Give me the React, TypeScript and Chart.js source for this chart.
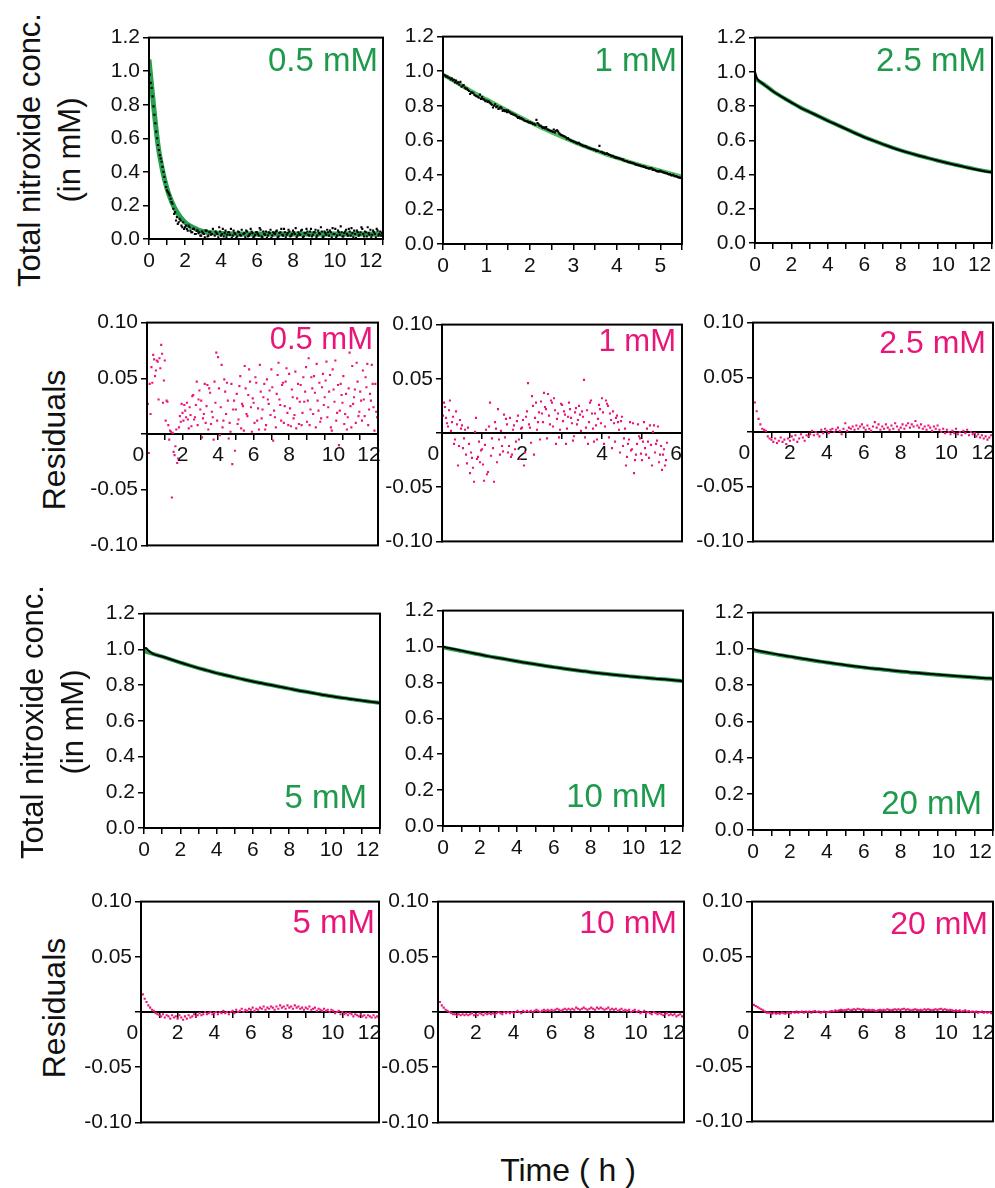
import React, { useEffect, useRef } from "react";
import { Chart, registerables } from "chart.js";

Chart.register(...registerables);

const FONT = '"Liberation Sans", Arial, Helvetica, sans-serif';
const INK = "#111111";
const GREEN_TEXT = "#1d9a4b";
const GREEN_FIT = "#27a04f";
const GREEN_FIT_LIGHT = "#4cbd60";
const PINK = "#ea1578";

// ---------------- time grids (h) ----------------
const T13 = [
  0, 0.1, 0.2, 0.3, 0.4, 0.5, 0.6, 0.7, 0.8, 0.9,
  1, 1.1, 1.2, 1.3, 1.4, 1.5, 1.6, 1.7, 1.8, 1.9,
  2, 2.1, 2.2, 2.3, 2.4, 2.5, 2.6, 2.7, 2.8, 2.9,
  3, 3.1, 3.2, 3.3, 3.4, 3.5, 3.6, 3.7, 3.8, 3.9,
  4, 4.1, 4.2, 4.3, 4.4, 4.5, 4.6, 4.7, 4.8, 4.9,
  5, 5.1, 5.2, 5.3, 5.4, 5.5, 5.6, 5.7, 5.8, 5.9,
  6, 6.1, 6.2, 6.3, 6.4, 6.5, 6.6, 6.7, 6.8, 6.9,
  7, 7.1, 7.2, 7.3, 7.4, 7.5, 7.6, 7.7, 7.8, 7.9,
  8, 8.1, 8.2, 8.3, 8.4, 8.5, 8.6, 8.7, 8.8, 8.9,
  9, 9.1, 9.2, 9.3, 9.4, 9.5, 9.6, 9.7, 9.8, 9.9,
  10, 10.1, 10.2, 10.3, 10.4, 10.5, 10.6, 10.7, 10.8, 10.9,
  11, 11.1, 11.2, 11.3, 11.4, 11.5, 11.6, 11.7, 11.8, 11.9,
  12, 12.1, 12.2, 12.3, 12.4, 12.5, 12.6, 12.7, 12.8, 12.9,
  13,
];

const T13b = [
  0.05, 0.15, 0.25, 0.35, 0.45, 0.55, 0.65, 0.75, 0.85, 0.95,
  1.05, 1.15, 1.25, 1.35, 1.45, 1.55, 1.65, 1.75, 1.85, 1.95,
  2.05, 2.15, 2.25, 2.35, 2.45, 2.55, 2.65, 2.75, 2.85, 2.95,
  3.05, 3.15, 3.25, 3.35, 3.45, 3.55, 3.65, 3.75, 3.85, 3.95,
  4.05, 4.15, 4.25, 4.35, 4.45, 4.55, 4.65, 4.75, 4.85, 4.95,
  5.05, 5.15, 5.25, 5.35, 5.45, 5.55, 5.65, 5.75, 5.85, 5.95,
  6.05, 6.15, 6.25, 6.35, 6.45, 6.55, 6.65, 6.75, 6.85, 6.95,
  7.05, 7.15, 7.25, 7.35, 7.45, 7.55, 7.65, 7.75, 7.85, 7.95,
  8.05, 8.15, 8.25, 8.35, 8.45, 8.55, 8.65, 8.75, 8.85, 8.95,
  9.05, 9.15, 9.25, 9.35, 9.45, 9.55, 9.65, 9.75, 9.85, 9.95,
  10.05, 10.15, 10.25, 10.35, 10.45, 10.55, 10.65, 10.75, 10.85, 10.95,
  11.05, 11.15, 11.25, 11.35, 11.45, 11.55, 11.65, 11.75, 11.85, 11.95,
  12.05, 12.15, 12.25, 12.35, 12.45, 12.55, 12.65, 12.75, 12.85, 12.95,
];

const T56 = [
  0, 0.05, 0.1, 0.15, 0.2, 0.25, 0.3, 0.35, 0.4, 0.45,
  0.5, 0.55, 0.6, 0.65, 0.7, 0.75, 0.8, 0.85, 0.9, 0.95,
  1, 1.05, 1.1, 1.15, 1.2, 1.25, 1.3, 1.35, 1.4, 1.45,
  1.5, 1.55, 1.6, 1.65, 1.7, 1.75, 1.8, 1.85, 1.9, 1.95,
  2, 2.05, 2.1, 2.15, 2.2, 2.25, 2.3, 2.35, 2.4, 2.45,
  2.5, 2.55, 2.6, 2.65, 2.7, 2.75, 2.8, 2.85, 2.9, 2.95,
  3, 3.05, 3.1, 3.15, 3.2, 3.25, 3.3, 3.35, 3.4, 3.45,
  3.5, 3.55, 3.6, 3.65, 3.7, 3.75, 3.8, 3.85, 3.9, 3.95,
  4, 4.05, 4.1, 4.15, 4.2, 4.25, 4.3, 4.35, 4.4, 4.45,
  4.5, 4.55, 4.6, 4.65, 4.7, 4.75, 4.8, 4.85, 4.9, 4.95,
  5, 5.05, 5.1, 5.15, 5.2, 5.25, 5.3, 5.35, 5.4, 5.45,
  5.5, 5.55, 5.6,
];

const T56b = [
  0.025, 0.075, 0.125, 0.175, 0.225, 0.275, 0.325, 0.375, 0.425, 0.475,
  0.525, 0.575, 0.625, 0.675, 0.725, 0.775, 0.825, 0.875, 0.925, 0.975,
  1.025, 1.075, 1.125, 1.175, 1.225, 1.275, 1.325, 1.375, 1.425, 1.475,
  1.525, 1.575, 1.625, 1.675, 1.725, 1.775, 1.825, 1.875, 1.925, 1.975,
  2.025, 2.075, 2.125, 2.175, 2.225, 2.275, 2.325, 2.375, 2.425, 2.475,
  2.525, 2.575, 2.625, 2.675, 2.725, 2.775, 2.825, 2.875, 2.925, 2.975,
  3.025, 3.075, 3.125, 3.175, 3.225, 3.275, 3.325, 3.375, 3.425, 3.475,
  3.525, 3.575, 3.625, 3.675, 3.725, 3.775, 3.825, 3.875, 3.925, 3.975,
  4.025, 4.075, 4.125, 4.175, 4.225, 4.275, 4.325, 4.375, 4.425, 4.475,
  4.525, 4.575, 4.625, 4.675, 4.725, 4.775, 4.825, 4.875, 4.925, 4.975,
  5.025, 5.075, 5.125, 5.175, 5.225, 5.275, 5.325, 5.375, 5.425, 5.475,
  5.525, 5.575, 5.625,
];

const T13H = [
  0, 0.5, 1, 1.5, 2, 2.5, 3, 3.5, 4, 4.5, 5, 5.5, 6, 6.5,
  7, 7.5, 8, 8.5, 9, 9.5, 10, 10.5, 11, 11.5, 12, 12.5, 13,
];

const TB = [
  0, 0.1, 0.2, 0.5, 1, 1.5, 2, 2.5, 3, 3.5, 4, 4.5, 5, 5.5, 6, 6.5,
  7, 7.5, 8, 8.5, 9, 9.5, 10, 10.5, 11, 11.5, 12, 12.5, 13,
];

// ---------------- 0.5 mM ----------------
const conc05Dots = [
  1.05, 0.93, 0.85, 0.74, 0.64, 0.56, 0.5, 0.46, 0.4, 0.34,
  0.29, 0.27, 0.24, 0.21, 0.15, 0.11, 0.09, 0.12, 0.08, 0.1,
  0.07, 0.06, 0.08, 0.05, 0.04, 0.06, 0.03, 0.05, 0.04, 0.02,
  0.035, 0.01, 0.05, 0.02, 0.04, 0.03, 0.0, 0.045, 0.03, 0.07,
  0.02, 0.06, 0.035, 0.01, 0.04, 0.025, 0.005, 0.05, 0.03, 0.015,
  0.04, 0.02, 0.0, 0.035, 0.05, 0.015, 0.03, 0.045, 0.01, 0.025,
  0.04, 0.02, 0.055, 0.01, 0.03, 0.045, 0.02, 0.035, 0.005, 0.04,
  0.03, 0.05, 0.015, 0.04, 0.025, 0.06, 0.01, 0.035, 0.045, 0.02,
  0.05, 0.03, 0.01, 0.04, 0.025, 0.055, 0.015, 0.035, 0.045, 0.02,
  0.06, 0.025, 0.04, 0.01, 0.05, 0.03, 0.045, 0.015, 0.035, 0.055,
  0.02, 0.04, 0.065, 0.03, 0.01, 0.05, 0.025, 0.04, 0.015, 0.045,
  0.03, 0.06, 0.02, 0.035, 0.05, 0.005, 0.04, 0.025, 0.07, 0.03,
  0.045, 0.015, 0.035, 0.055, 0.025, 0.04, 0.01, 0.05, 0.03, 0.02,
  0.035,
];
const conc05DotsB = [
  0.98, 0.9, 0.79, 0.69, 0.6, 0.53, 0.48, 0.43, 0.37, 0.31,
  0.28, 0.26, 0.22, 0.18, 0.16, 0.13, 0.1, 0.11, 0.07, 0.06,
  0.08, 0.05, 0.07, 0.04, 0.06, 0.03, 0.05, 0.035, 0.02, 0.045,
  0.03, 0.05, 0.015, 0.04, 0.025, 0.06, 0.02, 0.035, 0.01, 0.045,
  0.03, 0.015, 0.05, 0.025, 0.04, 0.06, 0.02, 0.035, 0.005, 0.045,
  0.025, 0.055, 0.03, 0.01, 0.045, 0.02, 0.06, 0.035, 0.015, 0.04,
  0.03, 0.065, 0.015, 0.045, 0.025, 0.005, 0.04, 0.055, 0.02, 0.035,
  0.045, 0.01, 0.035, 0.06, 0.02, 0.04, 0.025, 0.055, 0.015, 0.03,
  0.04, 0.065, 0.02, 0.03, 0.05, 0.01, 0.035, 0.06, 0.025, 0.045,
  0.015, 0.04, 0.055, 0.02, 0.035, 0.07, 0.01, 0.045, 0.025, 0.04,
  0.05, 0.01, 0.03, 0.06, 0.02, 0.04, 0.075, 0.015, 0.035, 0.055,
  0.02, 0.045, 0.065, 0.01, 0.03, 0.05, 0.02, 0.04, 0.06, 0.015,
  0.04, 0.07, 0.025, 0.01, 0.05, 0.03, 0.06, 0.02, 0.045, 0.035,
];
const fit05T = [0, 0.25, 0.5, 0.75, 1, 1.25, 1.5, 1.75, 2, 2.25, 2.5, 2.75, 3, 3.5, 4, 5, 6, 8, 10, 12, 13];
const fit05Y = [1.07, 0.8, 0.56, 0.41, 0.3, 0.225, 0.17, 0.13, 0.1, 0.08, 0.065, 0.053, 0.045, 0.037, 0.033, 0.03, 0.03, 0.03, 0.03, 0.03, 0.03];
const res05 = [
  -0.064, -0.017, 0.018, 0.046, 0.067, 0.057, 0.065, 0.068, 0.08, 0.028,
  0.066, 0.03, 0.008, 0.003, -0.057, -0.016, -0.011, -0.026, 0.006, 0.011,
  0.019, 0.026, 0.015, 0.013, 0.024, 0.007, 0.035, 0.015, 0.047, 0.031,
  0.022, -0.003, 0.018, 0.01, 0.044, 0.041, 0.009, 0.015, 0.047, 0.073,
  0.069, -0.001, 0.062, 0.012, 0.038, 0.046, -0.004, 0.002, -0.027, 0.03,
  0.022, 0.009, 0.043, 0.005, 0.025, 0.061, 0.018, 0.035, 0.047, 0.002,
  0.028, 0.051, 0.012, 0.004, 0.038, 0.022, 0.045, 0.008, 0.031, 0.039,
  0.058, -0.006, 0.015, 0.036, 0.064, 0.026, 0.044, 0.01, 0.047, 0.019,
  0.054, 0.007, 0.033, 0.017, 0.005, 0.045, 0.029, 0.008, 0.051, 0.038,
  0.011, 0.068, 0.022, 0.041, 0.052, 0.006, 0.03, 0.046, 0.014, 0.054,
  0.033, 0.065, 0.024, 0.053, 0.003, 0.04, 0.066, 0.019, -0.01, 0.045,
  0.028, 0.009, 0.036, 0.015, 0.073, 0.006, 0.027, 0.04, 0.064, 0.016,
  0.038, 0.012, 0.031, 0.051, 0.063, 0.022, 0.03, 0.045, 0.003, 0.02,
  0.038,
];
const res05B = [
  0.027, 0.045, 0.06, 0.071, 0.052, 0.066, 0.031, 0.059, 0.072, 0.048,
  0.012, 0.029, -0.005, 0.002, 0.001, -0.019, 0.004, -0.022, 0.016, 0.027,
  0.012, 0.021, 0.028, 0.005, 0.017, 0.034, 0.013, 0.026, 0.008, 0.039,
  0.03, 0.014, 0.045, 0.025, 0.004, 0.037, 0.02, -0.005, 0.028, 0.012,
  0.041, 0.024, 0.006, 0.049, 0.018, 0.03, 0.01, 0.045, 0.022, -0.015,
  0.036, 0.013, 0.052, 0.027, 0.003, 0.041, 0.016, 0.058, 0.024, 0.032,
  0.01, 0.046, 0.023, 0.062, 0.014, 0.033, 0.004, 0.049, 0.027, 0.017,
  0.042, 0.021, 0.006, 0.053, 0.031, 0.012, 0.046, 0.025, 0.059, 0.008,
  0.023, 0.04, 0.014, 0.056, 0.032, 0.009, 0.044, 0.019, 0.029, 0.06,
  0.03, 0.008, 0.051, 0.018, 0.037, 0.063, 0.021, 0.011, 0.042, 0.026,
  0.048, 0.015, 0.038, 0.006, 0.058, 0.029, 0.012, 0.044, 0.021, 0.035,
  0.052, 0.018, 0.004, 0.041, 0.025, 0.061, 0.033, 0.01, 0.047, 0.02,
  0.03, 0.057, 0.016, 0.042, 0.008, 0.036, 0.062, 0.024, 0.045, 0.015,
];

// ---------------- 1 mM ----------------
const conc1Dots = [
  0.985, 0.975, 0.97, 0.962, 0.958, 0.95, 0.945, 0.935, 0.938, 0.915,
  0.905, 0.9, 0.885, 0.878, 0.872, 0.858, 0.852, 0.864, 0.85, 0.835,
  0.83, 0.825, 0.812, 0.79, 0.808, 0.796, 0.785, 0.785, 0.775, 0.773,
  0.772, 0.76, 0.755, 0.748, 0.738, 0.735, 0.728, 0.72, 0.712, 0.708,
  0.705, 0.7, 0.695, 0.718, 0.692, 0.684, 0.672, 0.668, 0.664, 0.658,
  0.655, 0.662, 0.655, 0.65, 0.634, 0.628, 0.622, 0.61, 0.606, 0.598,
  0.594, 0.588, 0.582, 0.578, 0.572, 0.566, 0.563, 0.556, 0.552, 0.548,
  0.545, 0.54, 0.568, 0.534, 0.528, 0.522, 0.52, 0.515, 0.51, 0.503,
  0.5, 0.497, 0.492, 0.488, 0.48, 0.476, 0.474, 0.47, 0.466, 0.458,
  0.456, 0.452, 0.45, 0.446, 0.44, 0.436, 0.438, 0.43, 0.424, 0.42,
  0.423, 0.418, 0.413, 0.41, 0.402, 0.398, 0.4, 0.392, 0.388, 0.385,
  0.378, 0.375, 0.372,
];
const conc1DotsB = [
  0.978, 0.968, 0.962, 0.952, 0.947, 0.935, 0.93, 0.922, 0.91, 0.92,
  0.898, 0.892, 0.868, 0.876, 0.862, 0.855, 0.846, 0.84, 0.838, 0.826,
  0.822, 0.818, 0.806, 0.8, 0.792, 0.781, 0.792, 0.77, 0.768, 0.762,
  0.764, 0.752, 0.748, 0.744, 0.73, 0.726, 0.722, 0.714, 0.71, 0.703,
  0.701, 0.694, 0.689, 0.7, 0.685, 0.678, 0.675, 0.676, 0.66, 0.654,
  0.648, 0.646, 0.658, 0.64, 0.63, 0.624, 0.618, 0.613, 0.602, 0.596,
  0.59, 0.584, 0.585, 0.574, 0.568, 0.566, 0.558, 0.554, 0.55, 0.546,
  0.54, 0.538, 0.532, 0.527, 0.522, 0.524, 0.516, 0.508, 0.506, 0.5,
  0.496, 0.493, 0.488, 0.482, 0.48, 0.474, 0.47, 0.468, 0.462, 0.46,
  0.455, 0.45, 0.446, 0.442, 0.438, 0.44, 0.43, 0.428, 0.422, 0.42,
  0.418, 0.414, 0.41, 0.405, 0.404, 0.396, 0.393, 0.391, 0.384, 0.382,
  0.38, 0.376, 0.373,
];
const fit1T = [0, 0.25, 0.5, 0.75, 1, 1.25, 1.5, 1.75, 2, 2.25, 2.5, 2.75, 3, 3.25, 3.5, 3.75, 4, 4.25, 4.5, 4.75, 5, 5.25, 5.5];
const fit1Y = [0.98, 0.944, 0.907, 0.871, 0.837, 0.803, 0.77, 0.737, 0.705, 0.675, 0.646, 0.618, 0.591, 0.566, 0.542, 0.519, 0.498, 0.478, 0.459, 0.441, 0.424, 0.407, 0.39];
const res1 = [
  0.02, 0.028, 0.014, 0.006, 0.03, 0.01, -0.01, 0.02, -0.03, 0.012,
  0.007, -0.005, -0.02, 0.005, -0.037, -0.023, -0.045, 0.014, -0.022, -0.027,
  -0.015, -0.044, 0.003, -0.036, 0.028, -0.005, -0.045, 0.004, 0.022, -0.02,
  -0.012, 0.017, 0.013, -0.018, 0.014, -0.02, 0.007, -0.008, 0.016, -0.024,
  0.005, -0.03, 0.015, 0.046, 0.005, 0.034, -0.02, 0.028, 0.01, -0.006,
  0.018, 0.037, 0.022, 0.036, 0.008, 0.028, 0.032, -0.01, 0.018, 0.003,
  0.026, 0.02, -0.01, 0.015, 0.022, 0.009, -0.003, 0.023, 0.012, 0.017,
  0.02, 0.049, 0.005, -0.01, 0.028, 0.018, -0.008, 0.007, 0.013, 0.022,
  0.032, -0.01, 0.03, 0.025, 0.018, -0.014, 0.009, 0.014, 0.01, -0.018,
  0.015, -0.005, -0.03, -0.01, 0.01, -0.015, -0.037, -0.02, 0.008, -0.005,
  -0.025, 0.01, -0.02, -0.008, 0.007, -0.03, 0.007, -0.01, 0.006, -0.02,
  -0.034, -0.015, -0.025,
];
const res1B = [
  0.016, 0.024, 0.009, 0.021, 0.002, 0.015, -0.006, 0.008, -0.012, 0.004,
  -0.014, 0.003, -0.028, -0.01, -0.018, -0.032, 0.001, -0.024, -0.008, -0.016,
  -0.029, -0.011, -0.038, 0.006, -0.021, -0.014, 0.01, -0.027, -0.006, 0.002,
  -0.017, -0.004, 0.008, -0.012, -0.022, 0.003, -0.015, 0.011, -0.006, 0.004,
  0.012, -0.018, 0.02, 0.008, -0.009, 0.025, 0.014, 0.003, 0.019, 0.029,
  0.01, 0.024, -0.005, 0.016, 0.03, 0.006, 0.021, 0.013, -0.004, 0.027,
  0.011, 0.017, 0.004, 0.028, 0.014, -0.007, 0.019, 0.008, 0.025, 0.002,
  0.015, -0.004, 0.021, 0.01, 0.03, 0.004, 0.018, -0.006, 0.026, 0.009,
  0.019, 0.006, 0.027, -0.004, 0.012, 0.02, -0.008, 0.016, 0.003, 0.011,
  -0.012, 0.004, -0.022, -0.006, -0.016, 0.009, -0.025, -0.01, -0.003, -0.019,
  -0.008, -0.014, 0.004, -0.023, -0.011, 0.001, -0.018, -0.007, -0.027, -0.012,
  -0.02, -0.03, -0.009,
];

// ---------------- 2.5 mM ----------------
const data25 = [1.0, 0.965, 0.95, 0.925, 0.885, 0.852, 0.82, 0.79, 0.765, 0.74, 0.714, 0.69, 0.666, 0.641, 0.618, 0.598, 0.578, 0.558, 0.54, 0.525, 0.51, 0.496, 0.482, 0.469, 0.456, 0.444, 0.432, 0.421, 0.412];
const fit25 = [0.96, 0.926, 0.886, 0.852, 0.821, 0.791, 0.765, 0.74, 0.715, 0.69, 0.666, 0.642, 0.619, 0.598, 0.578, 0.559, 0.541, 0.525, 0.51, 0.496, 0.482, 0.469, 0.457, 0.445, 0.433, 0.423, 0.414];
const res25 = [
  0.032, 0.027, 0.019, 0.012, 0.007, 0.003, 0.002, 0.001, -0.004, -0.006,
  -0.007, -0.009, -0.006, -0.01, -0.008, -0.005, -0.009, -0.007, -0.011, -0.006,
  -0.008, -0.004, -0.007, -0.003, -0.009, -0.006, -0.002, -0.005, -0.008, -0.003,
  -0.004, -0.002, 0.001, -0.003, 0.0, -0.002, -0.004, 0.002, -0.001, 0.003,
  0.001, -0.001, 0.002, 0.003, 0.0, 0.002, 0.004, 0.001, -0.002, 0.003,
  0.008, 0.001, 0.004, 0.003, 0.005, 0.002, 0.006, 0.003, 0.005, 0.007,
  0.004, 0.002, 0.006, 0.003, 0.001, 0.005, 0.009, 0.004, 0.007, 0.002,
  0.005, 0.003, 0.007, 0.004, 0.002, 0.006, 0.003, 0.008, 0.005, 0.002,
  0.004, 0.007, 0.003, 0.006, 0.008, 0.004, 0.007, 0.005, 0.01, 0.006,
  0.004, 0.007, 0.003, 0.005, 0.002, 0.006, 0.004, 0.001, 0.005, 0.003,
  0.006, 0.002, 0.0, 0.003, -0.001, 0.002, 0.0, -0.002, 0.001, -0.001,
  0.003, -0.002, 0.0, -0.003, 0.001, -0.001, 0.002, -0.003, 0.0, -0.002,
  -0.001, -0.004, -0.002, -0.005, -0.003, -0.006, -0.004, -0.007, -0.005, -0.003,
  -0.008,
];

// ---------------- 5 mM ----------------
const data5 = [1.0, 1.008, 0.998, 0.975, 0.96, 0.943, 0.926, 0.91, 0.895, 0.881, 0.867, 0.855, 0.843, 0.831, 0.82, 0.81, 0.8, 0.79, 0.78, 0.77, 0.761, 0.752, 0.743, 0.735, 0.727, 0.72, 0.713, 0.706, 0.699];
const fit5 = [0.99, 0.975, 0.959, 0.942, 0.926, 0.91, 0.895, 0.881, 0.867, 0.855, 0.843, 0.831, 0.82, 0.81, 0.8, 0.79, 0.78, 0.77, 0.761, 0.752, 0.743, 0.735, 0.727, 0.72, 0.713, 0.706, 0.7];
const res5 = [
  0.02, 0.016, 0.012, 0.009, 0.006, 0.004, 0.002, 0.001, -0.001, -0.002,
  -0.003, -0.004, -0.002, -0.005, -0.003, -0.004, -0.006, -0.003, -0.005, -0.004,
  -0.006, -0.003, -0.005, -0.007, -0.004, -0.006, -0.003, -0.005, -0.004, -0.002,
  -0.004, -0.003, -0.001, -0.003, -0.002, 0.0, -0.002, -0.001, 0.0, -0.002,
  -0.001, 0.0, -0.002, 0.0, -0.001, 0.001, -0.001, 0.0, -0.002, 0.0,
  0.001, -0.001, 0.002, 0.0, 0.001, 0.003, 0.0, 0.002, 0.001, 0.003,
  0.002, 0.004, 0.001, 0.003, 0.002, 0.004, 0.003, 0.005, 0.002, 0.004,
  0.003, 0.005, 0.004, 0.002, 0.005, 0.003, 0.006, 0.004, 0.005, 0.003,
  0.006, 0.004, 0.005, 0.003, 0.006, 0.004, 0.005, 0.003, 0.004, 0.002,
  0.004, 0.003, 0.005, 0.002, 0.003, 0.004, 0.001, 0.003, 0.002, 0.001,
  0.003, 0.001, 0.002, 0.0, 0.002, 0.001, -0.001, 0.0, 0.001, -0.002,
  0.0, -0.002, -0.001, -0.003, -0.001, -0.002, -0.004, -0.002, -0.003, -0.004,
  -0.002, -0.004, -0.003, -0.005, -0.003, -0.004, -0.005, -0.003, -0.005, -0.004,
  -0.006,
];

// ---------------- 10 mM ----------------
const data10 = [1.0, 0.997, 0.993, 0.988, 0.977, 0.966, 0.955, 0.945, 0.936, 0.927, 0.918, 0.909, 0.901, 0.893, 0.885, 0.878, 0.871, 0.864, 0.857, 0.851, 0.846, 0.84, 0.835, 0.83, 0.826, 0.821, 0.817, 0.812, 0.808];
const fit10 = [0.995, 0.985, 0.975, 0.965, 0.955, 0.945, 0.936, 0.927, 0.918, 0.909, 0.901, 0.893, 0.885, 0.878, 0.871, 0.864, 0.857, 0.851, 0.846, 0.84, 0.835, 0.83, 0.826, 0.821, 0.817, 0.812, 0.808];
const res10 = [
  0.012, 0.009, 0.006, 0.004, 0.002, 0.001, 0.0, -0.001, -0.002, -0.002,
  -0.003, -0.002, -0.003, -0.002, -0.003, -0.002, -0.003, -0.002, -0.001, -0.003,
  -0.002, -0.003, -0.001, -0.002, -0.003, -0.001, -0.002, -0.001, -0.002, -0.001,
  -0.002, -0.001, 0.0, -0.001, -0.002, 0.0, -0.001, 0.0, -0.001, 0.0,
  -0.001, 0.0, 0.001, 0.0, -0.001, 0.001, 0.0, 0.001, 0.0, 0.001,
  0.0, 0.001, 0.002, 0.001, 0.0, 0.001, 0.002, 0.001, 0.002, 0.001,
  0.002, 0.001, 0.002, 0.003, 0.002, 0.001, 0.002, 0.003, 0.002, 0.003,
  0.002, 0.003, 0.002, 0.004, 0.003, 0.002, 0.003, 0.004, 0.003, 0.002,
  0.003, 0.004, 0.003, 0.002, 0.004, 0.003, 0.004, 0.003, 0.002, 0.003,
  0.004, 0.002, 0.003, 0.002, 0.003, 0.001, 0.002, 0.003, 0.001, 0.002,
  0.001, 0.002, 0.0, 0.001, 0.002, 0.0, 0.001, -0.001, 0.0, 0.001,
  -0.001, 0.0, -0.001, -0.002, 0.0, -0.001, -0.002, -0.001, -0.002, -0.003,
  -0.002, -0.001, -0.003, -0.002, -0.003, -0.002, -0.004, -0.003, -0.002, -0.004,
  -0.004,
];

// ---------------- 20 mM ----------------
const data20 = [1.0, 0.996, 0.992, 0.985, 0.975, 0.966, 0.958, 0.949, 0.941, 0.933, 0.925, 0.918, 0.911, 0.904, 0.898, 0.892, 0.887, 0.881, 0.876, 0.871, 0.867, 0.862, 0.858, 0.854, 0.85, 0.846, 0.843, 0.839, 0.836];
const fit20 = [0.992, 0.983, 0.974, 0.965, 0.957, 0.948, 0.94, 0.932, 0.924, 0.917, 0.91, 0.903, 0.897, 0.891, 0.886, 0.88, 0.875, 0.87, 0.866, 0.861, 0.857, 0.853, 0.849, 0.846, 0.842, 0.838, 0.835];
const res20 = [
  0.0075, 0.006, 0.005, 0.004, 0.003, 0.002, 0.001, 0.0, -0.001, -0.001,
  -0.0015, -0.002, -0.001, -0.002, -0.0015, -0.002, -0.001, -0.0015, -0.002, -0.001,
  -0.001, -0.0015, -0.0005, -0.001, 0.0, -0.001, -0.0005, 0.0, -0.001, 0.0,
  -0.0005, 0.0, -0.001, 0.0, 0.0005, -0.0005, 0.0, -0.001, -0.0005, 0.0,
  -0.001, -0.0005, 0.0, 0.0005, 0.0, 0.001, 0.0005, 0.001, 0.0015, 0.001,
  0.001, 0.0015, 0.002, 0.001, 0.0015, 0.002, 0.0015, 0.0025, 0.002, 0.0015,
  0.002, 0.0015, 0.001, 0.0015, 0.001, 0.0015, 0.001, 0.0005, 0.001, 0.0015,
  0.001, 0.0015, 0.001, 0.002, 0.0015, 0.001, 0.0015, 0.002, 0.0015, 0.002,
  0.0015, 0.002, 0.0025, 0.0015, 0.002, 0.0015, 0.001, 0.0015, 0.002, 0.0015,
  0.001, 0.0015, 0.001, 0.002, 0.0015, 0.002, 0.0015, 0.001, 0.0015, 0.002,
  0.0015, 0.002, 0.0025, 0.0015, 0.002, 0.0015, 0.001, 0.0015, 0.001, 0.0005,
  0.001, 0.0005, 0.001, 0.0, 0.0005, 0.001, 0.0, 0.0005, -0.0005, 0.0,
  -0.0005, 0.0, -0.001, -0.0005, 0.0, -0.001, -0.0005, -0.001, -0.0005, -0.0015,
  -0.001,
];

// ---------------- panel specs ----------------
type Series = { x: number[]; y: number[]; mode: "dots" | "line"; color: string; size: number; order: number };
type Spec = {
  id: string;
  kind: "conc" | "res";
  rect: [number, number, number, number];
  xMax: number;
  xStep: number;
  labelEvery: number;
  tag: string;
  tagAt: "top" | "bottom";
  dx: number;
  dy: number;
  tagSize: number;
  series: Series[];
};

const dots = (x: number[], y: number[], color: string, size = 1.5): Series => ({ x, y, mode: "dots", color, size, order: 0 });
const line = (x: number[], y: number[], color: string, size: number, order: number): Series => ({ x, y, mode: "line", color, size, order });

const PANELS: Spec[] = [
  { id: "c05", kind: "conc", rect: [149, 36, 383, 239], xMax: 13, xStep: 1, labelEvery: 2, tag: "0.5 mM", tagAt: "top", dx: 5, dy: 33, tagSize: 33,
    series: [dots(T13, conc05Dots, "#000"), dots(T13b, conc05DotsB, "#000"), line(fit05T, fit05Y, GREEN_FIT, 5, 1)] },
  { id: "c1", kind: "conc", rect: [443, 35, 682, 244], xMax: 5.5, xStep: 0.5, labelEvery: 1, tag: "1 mM", tagAt: "top", dx: 5, dy: 34, tagSize: 33,
    series: [dots(T56, conc1Dots, "#000"), dots(T56b, conc1DotsB, "#000"), line(fit1T, fit1Y, GREEN_FIT_LIGHT, 4, 1)] },
  { id: "c25", kind: "conc", rect: [755, 36, 992, 243], xMax: 13, xStep: 1, labelEvery: 2, tag: "2.5 mM", tagAt: "top", dx: 6, dy: 33, tagSize: 33,
    series: [line(TB, data25, "#000", 2, 0), line(T13H, fit25, GREEN_FIT, 4, 1)] },

  { id: "r05", kind: "res", rect: [147, 321, 378, 547], xMax: 13, xStep: 1, labelEvery: 2, tag: "0.5 mM", tagAt: "top", dx: 5, dy: 26, tagSize: 31,
    series: [dots(T13, res05, PINK), dots(T13b, res05B, PINK)] },
  { id: "r1", kind: "res", rect: [442, 323, 682, 543], xMax: 6, xStep: 1, labelEvery: 2, tag: "1 mM", tagAt: "top", dx: 6, dy: 26, tagSize: 31,
    series: [dots(T56, res1, PINK), dots(T56b, res1B, PINK)] },
  { id: "r25", kind: "res", rect: [753, 321, 993, 543], xMax: 13, xStep: 1, labelEvery: 2, tag: "2.5 mM", tagAt: "top", dx: 7, dy: 30, tagSize: 32,
    series: [dots(T13, res25, PINK)] },

  { id: "c5", kind: "conc", rect: [144, 612, 380, 828], xMax: 13, xStep: 1, labelEvery: 2, tag: "5 mM", tagAt: "bottom", dx: 13, dy: 20, tagSize: 33,
    series: [line(TB, data5, "#000", 2, 0), line(T13H, fit5, GREEN_FIT, 4, 1)] },
  { id: "c10", kind: "conc", rect: [443, 609, 683, 826], xMax: 13, xStep: 1, labelEvery: 2, tag: "10 mM", tagAt: "bottom", dx: 16, dy: 19, tagSize: 33,
    series: [line(TB, data10, "#000", 2, 0), line(T13H, fit10, GREEN_FIT, 4, 1)] },
  { id: "c20", kind: "conc", rect: [753, 611, 993, 830], xMax: 13, xStep: 1, labelEvery: 2, tag: "20 mM", tagAt: "bottom", dx: 11, dy: 16, tagSize: 33,
    series: [line(TB, data20, "#000", 2, 0), line(T13H, fit20, GREEN_FIT, 4, 1)] },

  { id: "r5", kind: "res", rect: [141, 900, 379, 1124], xMax: 13, xStep: 1, labelEvery: 2, tag: "5 mM", tagAt: "top", dx: 4, dy: 31, tagSize: 33,
    series: [dots(T13, res5, PINK)] },
  { id: "r10", kind: "res", rect: [438, 900, 684, 1124], xMax: 13, xStep: 1, labelEvery: 2, tag: "10 mM", tagAt: "top", dx: 7, dy: 31, tagSize: 32,
    series: [dots(T13, res10, PINK)] },
  { id: "r20", kind: "res", rect: [752, 900, 993, 1123], xMax: 13, xStep: 1, labelEvery: 2, tag: "20 mM", tagAt: "top", dx: 5, dy: 32, tagSize: 32,
    series: [dots(T13, res20, PINK)] },
];

function xLabel(spec: Spec, v: number): string {
  const r = Math.round(v * 100) / 100;
  const k = r / spec.labelEvery;
  if (Math.abs(k - Math.round(k)) > 1e-6) return "";
  const s = String(r);
  if (spec.kind === "res") {
    if (r === 0) return s + "   ";
    if (r === spec.xMax && spec.xMax < 10) return s + "  ";
    if (r >= 10) return "   " + s;
    return s;
  }
  if (r >= 10) return "  " + s;
  return s;
}

function Panel({ spec }: { spec: Spec }) {
  const ref = useRef<HTMLCanvasElement | null>(null);
  const isConc = spec.kind === "conc";
  const yw = isConc ? 52 : 62;
  const pt = 14;
  const pr = 20;
  const pb = isConc ? 0 : 14;
  const xh = isConc ? 40 : 0;
  const [L, T, R, B] = spec.rect;
  const left = L - yw;
  const top = T - pt;
  const width = R - L + yw + pr;
  const height = B - T + pt + xh + pb;

  useEffect(() => {
    if (!ref.current) return;
    const tickFont = { family: FONT, size: 21 };
    const gridCommon = { display: true, drawOnChartArea: false, drawTicks: true, color: "#000", lineWidth: 1.5, tickWidth: 1.5 };
    const tagColor = isConc ? GREEN_TEXT : PINK;
    const framePlugin = {
      id: "frame_" + spec.id,
      afterDraw(chart: any) {
        const a = chart.chartArea;
        const ctx = chart.ctx as CanvasRenderingContext2D;
        ctx.save();
        ctx.strokeStyle = "#000";
        ctx.lineWidth = 2;
        ctx.strokeRect(a.left, a.top, a.right - a.left, a.bottom - a.top);
        ctx.font = `${spec.tagSize}px ${FONT}`;
        ctx.fillStyle = tagColor;
        ctx.textAlign = "right";
        ctx.textBaseline = "alphabetic";
        ctx.fillText(spec.tag, a.right - spec.dx, spec.tagAt === "top" ? a.top + spec.dy : a.bottom - spec.dy);
        ctx.restore();
      },
    };
    const chart = new Chart(ref.current, {
      type: "scatter",
      data: {
        datasets: spec.series.map((s) => ({
          data: s.x.map((x, i) => ({ x, y: s.y[i] })),
          showLine: s.mode === "line",
          borderColor: s.color,
          backgroundColor: s.color,
          borderWidth: s.mode === "line" ? s.size : 0,
          pointRadius: s.mode === "dots" ? s.size : 0,
          pointHoverRadius: 0,
          pointStyle: "rect",
          pointBorderWidth: 0,
          tension: s.mode === "line" ? 0.4 : 0,
          cubicInterpolationMode: "monotone",
          order: s.order,
        })),
      } as any,
      options: {
        animation: false,
        responsive: false,
        devicePixelRatio: 1,
        events: [],
        layout: { padding: { top: pt, right: pr, bottom: pb, left: 0 } },
        plugins: { legend: { display: false }, tooltip: { enabled: false }, title: { display: false } },
        scales: {
          x: {
            type: "linear",
            min: 0,
            max: spec.xMax,
            position: isConc ? "bottom" : { y: 0 },
            afterFit: (s: any) => {
              if (isConc) s.height = xh;
            },
            ticks: {
              stepSize: spec.xStep,
              autoSkip: false,
              maxRotation: 0,
              minRotation: 0,
              padding: 4,
              color: INK,
              font: tickFont,
              callback: (v: any) => xLabel(spec, Number(v)),
            },
            grid: { ...gridCommon, tickLength: isConc ? 6 : 5 },
            border: { display: true, color: "#000", width: 2 },
          },
          y: {
            type: "linear",
            min: isConc ? 0 : -0.1,
            max: isConc ? 1.2 : 0.1,
            afterFit: (s: any) => {
              s.width = yw;
            },
            ticks: {
              stepSize: isConc ? 0.2 : 0.05,
              autoSkip: false,
              padding: 3,
              color: INK,
              font: tickFont,
              callback: (v: any) => {
                const n = Number(v);
                if (isConc) return n.toFixed(1);
                if (Math.abs(n) < 1e-9) return "";
                return n.toFixed(2);
              },
            },
            grid: { ...gridCommon, tickLength: 6 },
            border: { display: true, color: "#000", width: 2 },
          },
        },
      } as any,
      plugins: [framePlugin],
    });
    return () => chart.destroy();
  }, []);

  return (
    <canvas
      ref={ref}
      width={width}
      height={height}
      style={{ position: "absolute", left, top, width, height }}
    />
  );
}

const rotBlock = (cx: number, cy: number, size: number, lh: number): React.CSSProperties => ({
  position: "absolute",
  left: cx,
  top: cy,
  transform: "translate(-50%, -50%) rotate(-90deg)",
  whiteSpace: "nowrap",
  textAlign: "center",
  fontFamily: FONT,
  fontSize: size,
  lineHeight: `${lh}px`,
  color: INK,
});

export default function App() {
  return (
    <div
      style={{
        position: "absolute",
        left: 0,
        top: 0,
        width: 995,
        height: 1188,
        overflow: "hidden",
        background: "#ffffff",
        fontFamily: FONT,
      }}
    >
      {PANELS.map((p) => (
        <Panel key={p.id} spec={p} />
      ))}
      <div style={rotBlock(50, 150, 31, 40)}>
        Total nitroxide conc.
        <br />
        (in mM)
      </div>
      <div style={rotBlock(54, 440, 32, 36)}>Residuals</div>
      <div style={rotBlock(53, 722, 31, 40)}>
        Total nitroxide conc.
        <br />
        (in mM)
      </div>
      <div style={rotBlock(54, 1008, 32, 36)}>Residuals</div>
      <div
        style={{
          position: "absolute",
          left: 568,
          top: 1170,
          transform: "translate(-50%, -50%)",
          whiteSpace: "nowrap",
          fontFamily: FONT,
          fontSize: 32,
          lineHeight: "36px",
          color: INK,
        }}
      >
        Time ( h )
      </div>
    </div>
  );
}
